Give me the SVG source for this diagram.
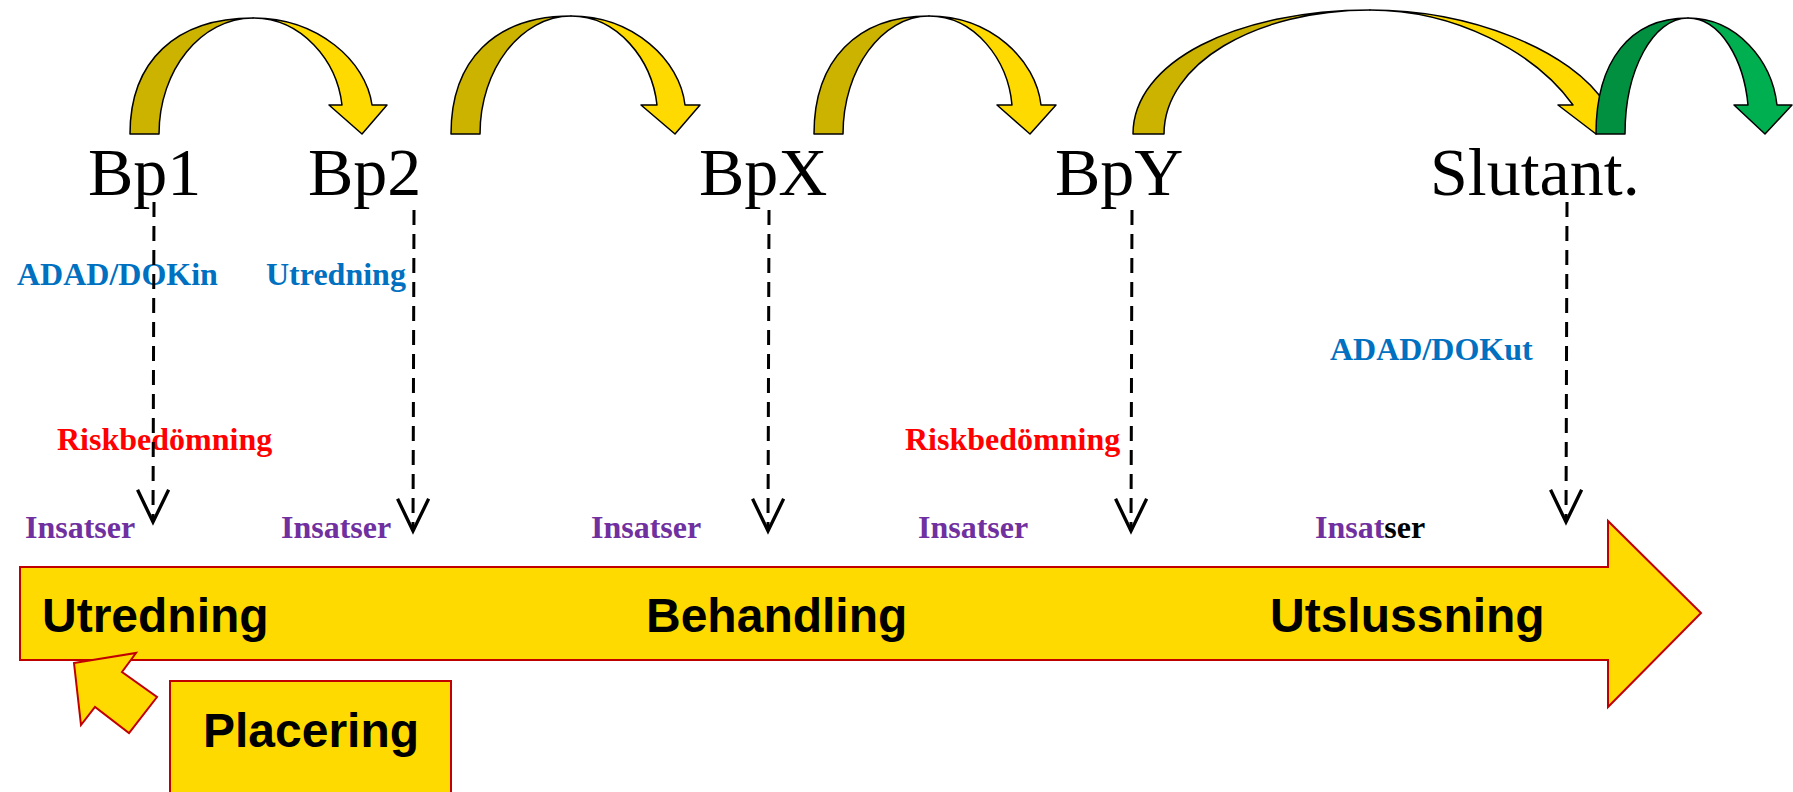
<svg xmlns="http://www.w3.org/2000/svg" width="1793" height="792" viewBox="0 0 1793 792">
<style>
.dk{fill:#CCB300;stroke:#000;stroke-width:1.5;stroke-linejoin:round}
.lt{fill:#FFDA00;stroke:#000;stroke-width:1.5;stroke-linejoin:round}
.gdk{fill:#009040;stroke:#000;stroke-width:1.5;stroke-linejoin:round}
.glt{fill:#00B050;stroke:#000;stroke-width:1.5;stroke-linejoin:round}
.bp{font-family:"Liberation Serif","Times New Roman",serif;font-size:68px;fill:#000}
.lbl{font-family:"Liberation Serif","Times New Roman",serif;font-weight:bold;font-size:32px}
.blue{fill:#0070C0}
.red{fill:#FF0000}
.pur{fill:#7030A0}
.phase{font-family:"Liberation Sans",Arial,sans-serif;font-weight:bold;font-size:48px;fill:#000}
.yel{fill:#FFDA00;stroke:#C00000;stroke-width:2;stroke-linejoin:miter}
.dash{stroke:#000;stroke-width:3;stroke-dasharray:15 9;fill:none}
</style>
<defs>
<marker id="v" markerUnits="userSpaceOnUse" orient="auto" refX="0" refY="0" markerWidth="40" markerHeight="40" viewBox="-32 -18 36 36" overflow="visible">
<path d="M-29,-14 L0,0 L-29,14" fill="none" stroke="#000" stroke-width="3" stroke-dasharray="none" stroke-linejoin="miter"/>
</marker>
</defs>

<g id="timeline">
<polygon class="yel" points="20,567 1608,567 1608,521 1701,613 1608,707 1608,660 20,660"/>
<text class="phase" x="42" y="632">Utredning</text>
<text class="phase" x="646" y="632">Behandling</text>
<text class="phase" x="1270" y="632">Utslussning</text>
</g>

<g id="placering">
<rect class="yel" x="170" y="681" width="281" height="130"/>
<polygon class="yel" points="74,663 136,653 122,672 157,697 129,733 95,707 81,725"/>
<text class="phase" x="203" y="747">Placering</text>
</g>

<g id="curve1">
<path class="dk" d="M130,134 C130,61 176,18 253,18 C201,18 159,70 159,134 Z"/>
<path class="lt" d="M253,18 C318,18 366,61 372,105 L387,105 L362,134 L329,105 L342,105 C337,61 302,18 253,18 Z"/>
</g>
<g id="curve2">
<path class="dk" d="M451,134 C451,60 495,16 571,16 C521,16 480,69 480,134 Z"/>
<path class="lt" d="M571,16 C633,16 680,60 685,105 L700,105 L675,134 L641,105 L657,105 C652,60 618,16 571,16 Z"/>
</g>
<g id="curve3">
<path class="dk" d="M814,134 C814,60 857,16 929,16 C882,16 843,69 843,134 Z"/>
<path class="lt" d="M929,16 C991,16 1036,60 1041,105 L1056,105 L1030,134 L997,105 L1012,105 C1008,60 975,16 929,16 Z"/>
</g>
<g id="curve4">
<path class="dk" d="M1133,134 C1133,62 1236,10 1370,10 C1255,10 1164,64 1164,134 Z"/>
<path class="lt" d="M1370,10 C1470,10 1572,50 1606,105 L1618,105 L1596,134 L1558,105 L1573,105 C1535,52 1455,10 1370,10 Z"/>
</g>
<g id="curve5">
<path class="gdk" d="M1596,134 C1596,61 1630,18 1688,18 C1653,18 1625,70 1625,134 Z"/>
<path class="glt" d="M1688,18 C1737,18 1772,61 1777,105 L1792,105 L1765,134 L1734,105 L1748,105 C1744,61 1721,18 1688,18 Z"/>
</g>

<g id="bp1">
<text class="bp" x="88" y="195">Bp1</text>
<text class="lbl blue" x="17" y="285">ADAD/DOKin</text>
<text class="lbl red" x="57" y="450">Riskbedömning</text>
<text class="lbl pur" x="25" y="538">Insatser</text>
</g>
<g id="bp2">
<text class="bp" x="308" y="195">Bp2</text>
<text class="lbl blue" x="266" y="285">Utredning</text>
<text class="lbl pur" x="281" y="538">Insatser</text>
</g>
<g id="bpx">
<text class="bp" x="699" y="195">BpX</text>
<text class="lbl pur" x="591" y="538">Insatser</text>
</g>
<g id="bpy">
<text class="bp" x="1055" y="195">BpY</text>
<text class="lbl red" x="905" y="450">Riskbedömning</text>
<text class="lbl pur" x="918" y="538">Insatser</text>
</g>
<g id="slutant">
<text class="bp" x="1430" y="195">Slutant.</text>
<text class="lbl blue" x="1330" y="360">ADAD/DOKut</text>
<text class="lbl" x="1315" y="538"><tspan class="pur">Insat</tspan><tspan fill="#000">ser</tspan></text>
</g>

<g id="connectors">
<line class="dash" x1="154" y1="202" x2="153" y2="522" marker-end="url(#v)"/>
<line class="dash" x1="414" y1="210" x2="413" y2="531" marker-end="url(#v)"/>
<line class="dash" x1="769" y1="210" x2="768" y2="531" marker-end="url(#v)"/>
<line class="dash" x1="1132" y1="210" x2="1131" y2="531" marker-end="url(#v)"/>
<line class="dash" x1="1567" y1="202" x2="1566" y2="522" marker-end="url(#v)"/>
</g>
</svg>
